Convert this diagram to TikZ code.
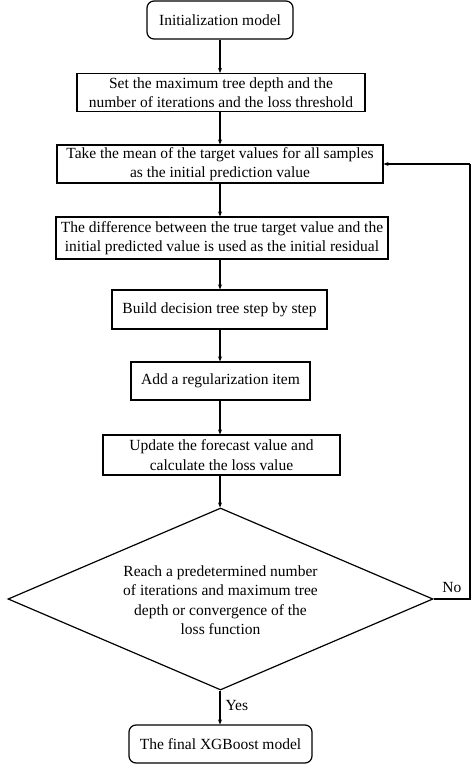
\documentclass[tikz,border=0pt]{standalone}
\usepackage{fontspec}
\setmainfont{Liberation Serif}
\usetikzlibrary{arrows.meta,shapes.geometric}
\begin{document}
\begin{tikzpicture}[x=1pt,y=-1pt,
  every node/.style={font=\fontsize{15.5}{19.5}\selectfont, align=center, inner sep=0pt},
  procbox/.style={draw, line width=1.2pt, rectangle},
  termbox/.style={draw, line width=1.2pt, rectangle, rounded corners=7pt},
  flow/.style={draw, line width=1.2pt, -{Stealth[length=5pt,width=4pt]}},
  plainline/.style={draw, line width=1.2pt}]
\useasboundingbox (0,0) rectangle (471,770);
\node[termbox, minimum width=146pt, minimum height=38pt] (n1) at (220,20) {Initialization model};
\node[procbox, minimum width=288pt, minimum height=38pt] (n2) at (221,92.5) {Set the maximum tree depth and the\\number of iterations and the loss threshold};
\node[procbox, minimum width=326pt, minimum height=38pt] (n3) at (220,164) {Take the mean of the target values for all samples\\as the initial prediction value};
\node[procbox, minimum width=332pt, minimum height=42pt] (n4) at (222,238) {The difference between the true target value and the\\initial predicted value is used as the initial residual};
\node[procbox, minimum width=215pt, minimum height=39pt] (n5) at (219.5,309.5) {Build decision tree step by step};
\node[procbox, minimum width=179pt, minimum height=38pt] (n6) at (220.5,381) {Add a regularization item};
\node[procbox, minimum width=237pt, minimum height=40pt] (n7) at (221.5,455) {Update the forecast value and\\calculate the loss value};
\node[draw, line width=1.2pt, diamond, aspect=2.34, minimum width=425pt, minimum height=182pt, inner sep=0pt] (d) at (220.5,599) {};
\node at (220.5,600) {Reach a predetermined number\\of iterations and maximum tree\\depth or convergence of the\\loss function};
\node[termbox, minimum width=183pt, minimum height=38pt] (n8) at (220.5,744) {The final XGBoost model};
\coordinate (c1) at (470,599);
\coordinate (c2) at (470,164);
\draw[flow] (n1.south -| 220,0) -- (n2.north -| 220,0);
\draw[flow] (n2.south -| 220,0) -- (n3.north -| 220,0);
\draw[flow] (n3.south -| 220,0) -- (n4.north -| 220,0);
\draw[flow] (n4.south -| 220,0) -- (n5.north -| 220,0);
\draw[flow] (n5.south -| 220,0) -- (n6.north -| 220,0);
\draw[flow] (n6.south -| 220,0) -- (n7.north -| 220,0);
\draw[flow] (n7.south -| 220,0) -- (d.north -| 220,0);
\draw[flow] (d.south -| 220,0) -- node[right=5pt, pos=0.45] {Yes} (n8.north -| 220,0);
\draw[plainline] (d.east) -- node[above=6pt, pos=0.5] {No} (c1) -- (c2);
\draw[flow] (c2) -- (n3.east);
\end{tikzpicture}
\end{document}
